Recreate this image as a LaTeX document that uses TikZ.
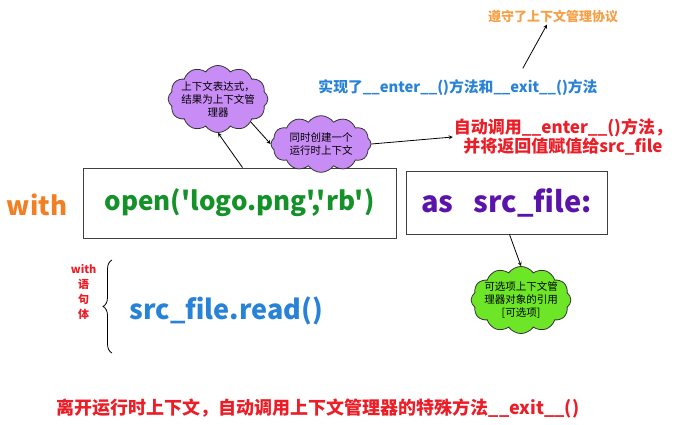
\documentclass[tikz,border=0pt]{standalone}
\usepackage{xcolor}
\usepackage{fontspec}
\setmainfont{Noto Sans CJK SC}[Ligatures=TeXOff]
\usepackage{tikz}
\usetikzlibrary{positioning, arrows.meta, shapes, shapes.symbols, decorations.pathreplacing}

\definecolor{kworange}{RGB}{240,128,35}
\definecolor{protoorange}{RGB}{245,160,70}
\definecolor{opengreen}{RGB}{20,145,40}
\definecolor{aspurple}{RGB}{90,20,170}
\definecolor{codeblue}{RGB}{40,130,215}
\definecolor{notered}{RGB}{235,30,40}
\definecolor{cloudpurple}{RGB}{200,140,245}
\definecolor{cloudgreen}{RGB}{110,230,40}

\begin{document}
\begin{tikzpicture}[x=1pt, y=-1pt, node distance=4pt and 6pt]
        \tikzstyle{codebox} = [rectangle, draw=black!75, line width=0.9pt, inner sep=0pt, text centered, font=\bfseries\fontsize{26}{30}\selectfont]
        \tikzstyle{bubble} = [cloud, cloud puffs=12, cloud puff arc=110, aspect=1.7, draw=black!80, thick, align=center, inner sep=-3pt, font=\fontsize{10.5}{13}\selectfont]
        \tikzstyle{note} = [align=center, inner sep=1pt, font=\bfseries\fontsize{15}{18}\selectfont]
        \tikzstyle{arrow} = [thick,->,>=stealth]

        \useasboundingbox (0,0) rectangle (683,425);

        \node [font=\bfseries\fontsize{26}{30}\selectfont, text=kworange] (withkw) at (37,205) {with};
        \node [codebox, text=opengreen, minimum width=313pt, minimum height=70pt] (openbox) at (239.5,203) {open('logo.png','rb')};
        \node [codebox, text=aspurple, minimum width=201pt, minimum height=63pt, font=\bfseries\fontsize{29}{32}\selectfont] (asbox) at (506.5,202.5) {as\hspace{20pt}src\_file:};

        \node [bubble, fill=cloudpurple] (ctxcloud) at (218,99) {上下文表达式，\\结果为上下文管\\理器};
        \node [bubble, fill=cloudpurple, minimum width=100pt, minimum height=54pt] (rtcloud) at (321,144) {同时创建一个\\运行时上下文};
        \node [bubble, fill=cloudgreen] (refcloud) at (521,300) {可选项上下文管\\理器对象的引用\\{}[可选项]};

        \node [note, text=codeblue, font=\bfseries\fontsize{14.8}{17}\selectfont] (implbl) at (458,88) {实现了\_\_enter\_\_()方法和\_\_exit\_\_()方法};
        \node [note, text=protoorange, font=\bfseries\fontsize{13}{16}\selectfont] (protolbl) at (553,17) {遵守了上下文管理协议};
        \node [note, text=notered, font=\bfseries\fontsize{17}{19}\selectfont] (enterlbl) at (563,137) {自动调用\_\_enter\_\_()方法，\\并将返回值赋值给src\_file};

        % with-block body
        \coordinate (bracetop) at (112,260);
        \coordinate (bracebot) at (112,353);
        \coordinate (bracemid) at (112,306);
        \draw [decorate, decoration={brace, amplitude=9pt}, thick] (bracebot) -- (bracetop);
        \node [align=center, text=notered, font=\bfseries\fontsize{11}{15}\selectfont, left=12pt of bracemid, yshift=14pt] (bodylbl) {with\\语\\句\\体};
        \node [text=codeblue, font=\bfseries\fontsize{27}{30}\selectfont, right=14pt of bracemid, yshift=-5pt] (readcall) {src\_file.read()};

        \node [note, text=notered, font=\bfseries\fontsize{18}{21}\selectfont] (exitlbl) at (318,408) {离开运行时上下文，自动调用上下文管理器的特殊方法\_\_exit\_\_()};

        \draw [arrow] ([xshift=3pt]openbox.north) -- (ctxcloud.south);
        \draw [arrow] (ctxcloud.-35) -- (rtcloud.180);
        \draw [arrow] (rtcloud.east) -- (enterlbl.west);
        \draw [arrow, shorten <=12pt] ([xshift=59pt]implbl.north) -- ([xshift=-6pt]protolbl.south);
        \draw [arrow] ([xshift=3pt]asbox.south) -- (refcloud.north);
\end{tikzpicture}
\end{document}
